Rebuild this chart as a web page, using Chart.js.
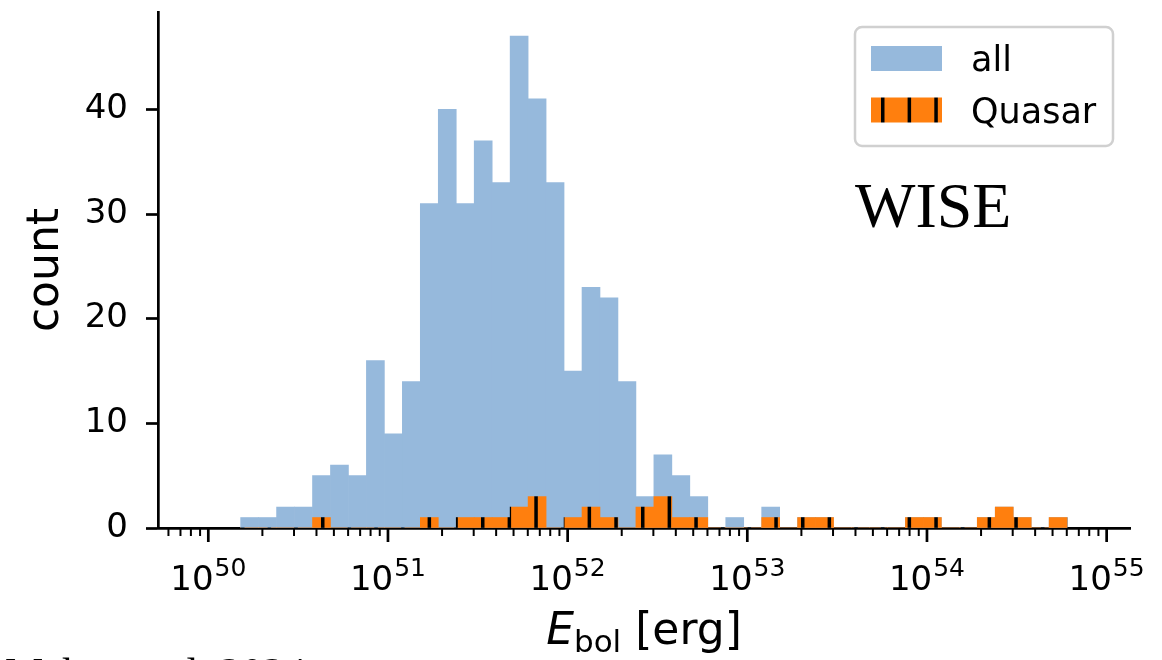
<!DOCTYPE html>
<html>
<head>
<meta charset="utf-8">
<title>E_bol histogram - WISE</title>
<script src="https://cdn.jsdelivr.net/npm/chart.js@4.4.1/dist/chart.umd.min.js"></script>
<style>
  html, body { margin: 0; padding: 0; background: #fff; }
  #chart { display: block; }
</style>
</head>
<body>
<canvas id="chart" width="1162" height="660"></canvas>
<script>
// log10(E_bol / erg) at the middle of each histogram bin
const binCenters = [
  50.23, 50.33, 50.43, 50.53, 50.63, 50.73, 50.83, 50.93, 51.03, 51.13,
  51.23, 51.33, 51.43, 51.53, 51.63, 51.73, 51.83, 51.93, 52.03, 52.13,
  52.23, 52.33, 52.43, 52.53, 52.63, 52.73, 52.83, 52.93, 53.03, 53.13,
  53.23, 53.33, 53.43, 53.53, 53.63, 53.73, 53.83, 53.93, 54.03, 54.13,
  54.23, 54.33, 54.43, 54.53, 54.63, 54.73
];
const allCounts = [
  1, 1, 2, 2, 5, 6, 5, 16, 9, 14,
  31, 40, 31, 37, 33, 47, 41, 33, 15, 23,
  22, 14, 3, 7, 5, 3, 0, 1, 0, 2,
  0, 1, 1, 0, 0, 0, 0, 1, 1, 0,
  0, 1, 2, 1, 0, 1
];
const quasarCounts = [
  0, 0, 0, 0, 1, 0, 0, 0, 0, 0,
  1, 0, 1, 1, 1, 2, 3, 0, 1, 2,
  1, 0, 2, 3, 1, 1, 0, 0, 0, 1,
  0, 1, 1, 0, 0, 0, 0, 1, 1, 0,
  0, 1, 2, 1, 0, 1
];
const decadeTicks = [49, 50, 51, 52, 53, 54, 55];
const minorFactors = [2, 3, 4, 5, 6, 7, 8, 9];
const countTicks = [0, 10, 20, 30, 40];
const seriesNames = ['all', 'Quasar'];

const SANS = '"DejaVu Sans", sans-serif';
const SANS_IT = 'italic 44px "DejaVu Sans", sans-serif';
const SERIF = '"Liberation Serif", "Times New Roman", serif';
const BLUE = 'rgb(150, 185, 220)';
const ORANGE = '#ff7f0e';

// orange fill with black vertical hatch lines ("|" hatch)
function makeHatch() {
  const c = document.createElement('canvas');
  c.width = 80; c.height = 10;
  const g = c.getContext('2d');
  g.fillStyle = ORANGE;
  g.fillRect(0, 0, 80, 10);
  g.fillStyle = '#000';
  [1, 27.6, 54.3].forEach(x => g.fillRect(x, 0, 3.5, 10));
  return g.createPattern(c, 'repeat');
}
const hatch = makeHatch();

function roundRect(ctx, x, y, w, h, r) {
  ctx.beginPath();
  ctx.moveTo(x + r, y);
  ctx.lineTo(x + w - r, y);
  ctx.arcTo(x + w, y, x + w, y + r, r);
  ctx.lineTo(x + w, y + h - r);
  ctx.arcTo(x + w, y + h, x + w - r, y + h, r);
  ctx.lineTo(x + r, y + h);
  ctx.arcTo(x, y + h, x, y + h - r, r);
  ctx.lineTo(x, y + r);
  ctx.arcTo(x, y, x + r, y, r);
  ctx.closePath();
}

function tickMark(ctx, px, y0, len, width) {
  ctx.lineWidth = width;
  ctx.beginPath();
  ctx.moveTo(px, y0);
  ctx.lineTo(px, y0 + len);
  ctx.stroke();
}

const decorations = {
  id: 'decorations',
  afterDraw(chart) {
    const { ctx, chartArea, scales: { x } } = chart;
    ctx.save();
    ctx.fillStyle = '#000';
    ctx.strokeStyle = '#000';

    // minor x ticks at 2..9 x 10^n
    decadeTicks.forEach(e => {
      minorFactors.forEach(f => {
        const v = e + Math.log10(f);
        if (v < x.min || v > x.max) return;
        tickMark(ctx, x.getPixelForValue(v), chartArea.bottom, 8, 2);
      });
    });

    // major x ticks and 10^n labels
    x.ticks.forEach(t => {
      const px = x.getPixelForValue(t.value);
      tickMark(ctx, px, chartArea.bottom, 14, 2.7);
      const exp = String(Math.round(t.value));
      ctx.font = '34px ' + SANS;
      const w1 = ctx.measureText('10').width;
      ctx.font = '25px ' + SANS;
      const w2 = ctx.measureText(exp).width;
      const x0 = px - (w1 + w2 + 1) / 2;
      ctx.textAlign = 'left';
      ctx.textBaseline = 'alphabetic';
      ctx.font = '34px ' + SANS;
      ctx.fillText('10', x0, 590);
      ctx.font = '25px ' + SANS;
      ctx.fillText(exp, x0 + w1 + 1, 576);
    });

    // y title
    ctx.save();
    ctx.translate(58, (chartArea.top + chartArea.bottom) / 2);
    ctx.rotate(-Math.PI / 2);
    ctx.font = '44px ' + SANS;
    ctx.textAlign = 'center';
    ctx.fillText('count', 0, 0);
    ctx.restore();

    // x title: E_bol [erg]
    ctx.textAlign = 'left';
    ctx.font = SANS_IT;
    const wE = ctx.measureText('E').width;
    ctx.font = '31px ' + SANS;
    const wSub = ctx.measureText('bol').width;
    ctx.font = '44px ' + SANS;
    const wRest = ctx.measureText(' [erg]').width;
    let tx = (chartArea.left + chartArea.right) / 2 - (wE + wSub + wRest) / 2;
    ctx.font = SANS_IT;
    ctx.fillText('E', tx, 644);
    tx += wE;
    ctx.font = '31px ' + SANS;
    ctx.fillText('bol', tx, 652);
    tx += wSub;
    ctx.font = '44px ' + SANS;
    ctx.fillText(' [erg]', tx, 644);

    // legend box
    roundRect(ctx, 855, 27, 258, 119, 7);
    ctx.fillStyle = 'rgba(255,255,255,0.8)';
    ctx.fill();
    ctx.lineWidth = 2.5;
    ctx.strokeStyle = '#d0d0d0';
    ctx.stroke();
    ctx.font = '35px ' + SANS;
    chart.data.datasets.forEach((ds, i) => {
      const top = 46 + i * 51.5;
      ctx.fillStyle = ds.backgroundColor;
      ctx.fillRect(871, top, 71, 25);
      ctx.fillStyle = '#000';
      ctx.fillText(ds.label, 971, top + 25);
    });

    // panel label
    ctx.font = '64px ' + SERIF;
    ctx.fillText('WISE', 855, 227);

    // caption cut off at the bottom of the image
    ctx.font = '43px ' + SERIF;
    ctx.fillText('Mehta et al. 2024', 5, 687);

    ctx.restore();
  }
};

Chart.defaults.color = '#000';
Chart.defaults.font.family = SANS;

new Chart(document.getElementById('chart'), {
  type: 'bar',
  data: {
    datasets: [
      {
        label: seriesNames[0],
        data: binCenters.map((c, i) => ({ x: c, y: allCounts[i] })),
        backgroundColor: BLUE,
        order: 1
      },
      {
        label: seriesNames[1],
        data: binCenters.map((c, i) => ({ x: c, y: quasarCounts[i] })),
        backgroundColor: hatch,
        order: 0
      }
    ]
  },
  options: {
    responsive: false,
    animation: false,
    layout: { padding: { top: 12, right: 32, left: 0, bottom: 0 } },
    datasets: {
      bar: { grouped: false, barPercentage: 1, categoryPercentage: 1, borderWidth: 0 }
    },
    plugins: {
      legend: { display: false },
      tooltip: { enabled: false }
    },
    scales: {
      x: {
        type: 'linear',
        min: 49.72,
        max: 55.13,
        offset: false,
        z: 1,
        grid: { display: false, offset: false },
        border: { display: true, color: '#000', width: 2.7 },
        ticks: { display: false },
        // only the decades go into the scale; minor ticks are drawn by the plugin
        afterBuildTicks: scale => {
          scale.ticks = decadeTicks
            .filter(e => e >= scale.min && e <= scale.max)
            .map(e => ({ value: e, major: true }));
        },
        afterFit: scale => {
          scale.height = 132;
          scale.paddingLeft = 0;
          scale.paddingRight = 0;
        }
      },
      y: {
        type: 'linear',
        min: 0,
        max: 49.3,
        z: 1,
        grid: { drawOnChartArea: false, drawTicks: true, tickLength: 12, tickWidth: 2.7, tickColor: '#000' },
        border: { display: true, color: '#000', width: 2.7 },
        ticks: { font: { size: 34, family: SANS }, color: '#000', padding: 18 },
        afterBuildTicks: scale => {
          scale.ticks = countTicks.map(v => ({ value: v }));
        },
        afterFit: scale => {
          scale.width = 158;
          scale.paddingTop = 0;
          scale.paddingBottom = 0;
        }
      }
    }
  },
  plugins: [decorations]
});
</script>
</body>
</html>
